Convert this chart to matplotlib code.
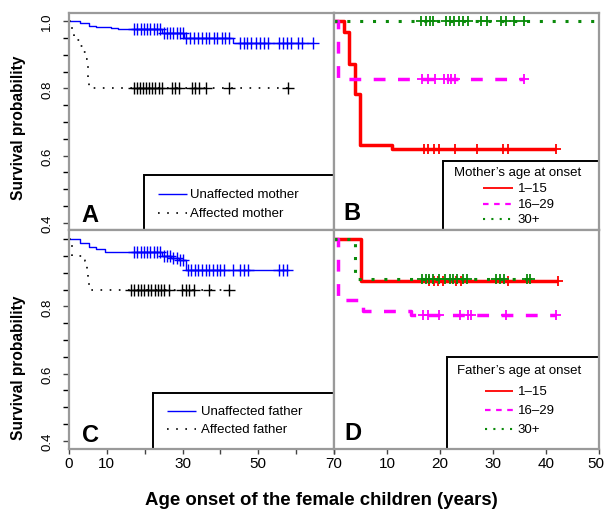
import numpy as np
import matplotlib
matplotlib.use("Agg")
import matplotlib.pyplot as plt
import matplotlib.transforms as mtransforms
from matplotlib.patches import Rectangle

plt.rcParams["font.family"] = ["Liberation Sans", "DejaVu Sans"]

# ---- data (years, survival) ----
# panel A: mother affected / unaffected
a_unaff_t = [0, 2.9, 5.3, 7.0, 9.0, 11.0, 13.0, 15.0, 24.6, 30.3, 43.2]
a_unaff_s = [1.0, 0.994, 0.986, 0.983, 0.981, 0.979, 0.977, 0.976, 0.964, 0.949, 0.934]
a_unaff_c = [17.1, 18.0, 18.9, 19.7, 20.6, 21.5, 22.4, 23.3, 24.1,
             25.0, 25.9, 26.8, 27.6, 28.5, 29.4, 30.2,
             30.8, 31.9, 32.9, 34.0, 35.0, 36.1, 37.1, 38.2, 39.2, 40.3, 41.3, 42.3,
             45.2, 46.2, 47.1, 48.2, 49.3, 50.5, 51.5, 52.6,
             55.5, 56.4, 57.6, 58.6, 60.4, 61.5, 64.4]
a_aff_t = [0, 0.7, 1.4, 2.0, 2.9, 3.8, 4.4, 4.9, 5.1, 5.3]
a_aff_s = [1.0, 0.97, 0.955, 0.945, 0.927, 0.907, 0.887, 0.863, 0.835, 0.80]
a_aff_c = [17.1, 17.9, 18.7, 19.5, 20.3, 21.1, 21.9, 22.8, 23.7, 24.6,
           27.2, 28.1, 29.0, 32.5, 33.4, 34.3, 36.3, 42.3, 57.9]

# panel B: mother's age at onset
b_g1_t = [0, 1.9, 2.8, 3.95, 4.95, 11.0]
b_g1_s = [1.0, 0.969, 0.871, 0.784, 0.633, 0.621]
b_g1_c = [16.9, 17.8, 18.8, 19.8, 22.9, 26.9, 31.8, 32.8, 41.9]
b_g2_t = [0, 0.75]
b_g2_s = [1.0, 0.828]
b_g2_c = [16.6, 17.7, 19.0, 20.8, 21.5, 22.1, 22.9, 35.8]
b_g3_t = [0]
b_g3_s = [1.0]
b_g3_c = [16.4, 17.4, 18.1, 18.6, 21.1, 21.9, 22.7, 23.5, 24.4, 25.2,
          27.7, 28.8, 31.5, 32.4, 34.0, 35.9, 52.0]

# panel C: father affected / unaffected
c_unaff_t = [0, 2.9, 5.3, 7.2, 9.4, 24.6, 27.0, 29.0, 30.8]
c_unaff_s = [1.0, 0.989, 0.977, 0.970, 0.962, 0.949, 0.943, 0.937, 0.909]
c_unaff_c = [17.1, 18.0, 18.9, 19.7, 20.6, 21.5, 22.4, 23.3, 24.1,
             25.0, 25.9, 26.8, 27.6, 28.5, 29.4, 30.2,
             31.4, 32.3, 33.3, 34.2, 35.2, 36.1, 37.1, 38.0, 39.0, 39.9, 40.9,
             43.2, 45.1, 46.2, 47.2, 55.5, 56.5, 57.6]
c_aff_t = [0, 0.9, 4.1, 4.4, 4.8, 5.1, 5.4]
c_aff_s = [1.0, 0.949, 0.935, 0.92, 0.90, 0.875, 0.848]
c_aff_c = [16.4, 17.3, 18.2, 19.0, 19.9, 20.8, 21.7, 22.6, 23.4, 24.3, 25.2, 26.4,
           29.9, 30.9, 31.8, 32.9, 37.1, 42.3]

# panel D: father's age at onset
d_g1_t = [0, 5.1]
d_g1_s = [1.0, 0.875]
d_g1_c = [18.0, 18.8, 19.6, 20.5, 23.0, 24.0, 32.8, 42.2]
d_g2_t = [0, 0.75, 5.5, 14.5]
d_g2_s = [1.0, 0.818, 0.786, 0.773]
d_g2_c = [16.8, 17.7, 19.9, 23.7, 25.2, 25.9, 32.5, 41.9]
d_g3_t = [0, 4.0]
d_g3_s = [1.0, 0.882]
d_g3_c = [16.6, 17.4, 18.0, 18.6, 19.9, 21.0, 21.8, 22.5, 23.3, 24.3, 25.0,
          30.6, 31.3, 32.0, 36.5, 37.0]

left_xticks = [0, 10, 20, 30, 40, 50, 60, 70]
left_xlabels = ["0", "10", "", "30", "", "50", "", "70"]
right_xticks = [0, 10, 20, 30, 40, 50]
right_xlabels = ["", "10", "20", "30", "40", "50"]
yticks_minor = [0.4, 0.45, 0.5, 0.55, 0.6, 0.65, 0.7, 0.75, 0.8, 0.85, 0.9, 0.95, 1.0]
a_yticks = [0.4, 0.6, 0.8, 1.0]
c_yticks = [0.4, 0.6, 0.8]

BLUE = "#0000ff"
RED = "#ff0000"
MAG = "#ff00ff"
GRN = "#0a8a0a"
SPINE = "#9a9a9a"


def km(ax, t, s, cens, color, lw, ls, ms, mew):
    t = np.asarray(t, float)
    s = np.asarray(s, float)
    cens = np.asarray(cens, float)
    end = cens.max() if len(cens) else t[-1]
    xs = np.append(t, end)
    ys = np.append(s, s[-1])
    ax.step(xs, ys, where="post", color=color, lw=lw, ls=ls,
            solid_capstyle="butt", dash_capstyle="butt")
    idx = np.searchsorted(t, cens, side="right") - 1
    ax.plot(cens, s[idx], ls="none", marker="+", ms=ms, mew=mew, color=color)


fig = plt.figure(figsize=(6.05, 5.10), dpi=100)
W, H = 605.0, 510.0


def make_ax(x0, y0, x1, y1):
    return fig.add_axes([x0 / W, 1 - y1 / H, (x1 - x0) / W, (y1 - y0) / H])


axA = make_ax(69, 14, 334, 231)
axB = make_ax(334, 14, 599, 231)
axC = make_ax(69, 231, 334, 450)
axD = make_ax(334, 231, 599, 450)

for ax in (axA, axB, axC, axD):
    for sp in ax.spines.values():
        sp.set_color(SPINE)
        sp.set_linewidth(1.6)
    ax.tick_params(colors="#444444", labelcolor="black")

axA.set_ylim(0.379, 1.024)
axB.set_ylim(0.379, 1.024)
axC.set_ylim(0.376, 1.027)
axD.set_ylim(0.376, 1.027)
axA.set_xlim(0, 70)
axC.set_xlim(0, 70)
axB.set_xlim(0, 50)
axD.set_xlim(0, 50)

dot_thin = (0, (1, 4.5))
dot_thick = (0, (1, 3.2))
dash_thick = (0, (3.4, 3.6))

km(axA, a_unaff_t, a_unaff_s, a_unaff_c, BLUE, 1.0, "-", 8, 1.0)
km(axA, a_aff_t, a_aff_s, a_aff_c, "black", 1.2, dot_thin, 8, 1.0)

km(axB, b_g1_t, b_g1_s, b_g1_c, RED, 2.5, "-", 7.5, 1.3)
km(axB, b_g2_t, b_g2_s, b_g2_c, MAG, 2.5, dash_thick, 7.5, 1.3)
km(axB, b_g3_t, b_g3_s, b_g3_c, GRN, 2.2, dot_thick, 7.5, 1.3)

km(axC, c_unaff_t, c_unaff_s, c_unaff_c, BLUE, 1.0, "-", 8, 1.0)
km(axC, c_aff_t, c_aff_s, c_aff_c, "black", 1.2, dot_thin, 8, 1.0)

km(axD, d_g1_t, d_g1_s, d_g1_c, RED, 2.5, "-", 7.5, 1.3)
km(axD, d_g2_t, d_g2_s, d_g2_c, MAG, 2.5, dash_thick, 7.5, 1.3)
km(axD, d_g3_t, d_g3_s, d_g3_c, GRN, 2.2, dot_thick, 7.5, 1.3)

# axes ticks
for ax, labs in ((axA, a_yticks), (axC, c_yticks)):
    ax.set_yticks(yticks_minor, minor=True)
    ax.set_yticks(labs)
    ax.set_yticklabels(["%.1f" % v for v in labs])
    ax.tick_params(axis="y", which="both", direction="out", length=4.3,
                   width=1.0, pad=7, labelrotation=90, labelsize=9.5)
    for lab in ax.get_yticklabels():
        lab.set_va("center")
for ax in (axB, axD):
    ax.set_yticks([])
for ax in (axA, axB):
    ax.set_xticks([])

axC.set_xticks(left_xticks)
axC.set_xticklabels(left_xlabels)
axD.set_xticks(right_xticks)
axD.set_xticklabels(right_xlabels)
for ax in (axC, axD):
    ax.tick_params(axis="x", direction="out", length=3.6, width=1.0, pad=1.5,
                   labelsize=11)
# last label sits against the right edge; nudge it in a little
shift = mtransforms.ScaledTranslation(-3 / 100, 0, fig.dpi_scale_trans)
last = axD.get_xticklabels()[-1]
last.set_transform(last.get_transform() + shift)


def legend_box(ax, x0, y0, title, entries, tx, lx0, lx1, ys, ty=None):
    ax.add_patch(Rectangle((x0, -0.2), 1.5, y0 + 0.2, transform=ax.transAxes,
                           fill=False, ec="black", lw=1.4, zorder=1))
    if title:
        ax.text(x0 + 0.04, ty, title, transform=ax.transAxes, fontsize=9.5,
                ha="left", va="center")
    for (label, color, lw, ls), y in zip(entries, ys):
        ax.plot([lx0, lx1], [y, y], transform=ax.transAxes, color=color,
                lw=lw, ls=ls, solid_capstyle="butt", dash_capstyle="butt")
        ax.text(tx, y, label, transform=ax.transAxes, fontsize=9.5,
                ha="left", va="center")


legend_box(axA, 0.283, 0.253, None,
           [("Unaffected mother", BLUE, 1.0, "-"),
            ("Affected mother", "black", 1.2, dot_thin)],
           0.457, 0.336, 0.445, [0.166, 0.078])
legend_box(axB, 0.411, 0.318, "Mother\u2019s age at onset",
           [("1\u201315", RED, 1.3, "-"),
            ("16\u201329", MAG, 1.6, (0, (2.5, 2.5))),
            ("30+", GRN, 1.5, (0, (1, 3)))],
           0.694, 0.562, 0.675, [0.194, 0.120, 0.051], ty=0.267)
legend_box(axC, 0.317, 0.256, None,
           [("Unaffected father", BLUE, 1.0, "-"),
            ("Affected father", "black", 1.2, dot_thin)],
           0.498, 0.370, 0.479, [0.174, 0.091])
legend_box(axD, 0.426, 0.42, "Father\u2019s age at onset",
           [("1\u201315", RED, 1.3, "-"),
            ("16\u201329", MAG, 1.6, (0, (2.5, 2.5))),
            ("30+", GRN, 1.5, (0, (1, 3)))],
           0.694, 0.570, 0.675, [0.265, 0.178, 0.091], ty=0.361)

for ax, letter, x, y in ((axA, "A", 0.045, 0.043), (axB, "B", 0.034, 0.051),
                         (axC, "C", 0.049, 0.038), (axD, "D", 0.038, 0.046)):
    ax.text(x, y, letter, transform=ax.transAxes, fontsize=17,
            fontweight="bold", ha="left", va="baseline")

fig.text(19 / W, 1 - 128 / H, "Survival probability", rotation=90,
         fontsize=11.2, fontweight="bold", ha="center", va="center")
fig.text(19 / W, 1 - 368 / H, "Survival probability", rotation=90,
         fontsize=11.2, fontweight="bold", ha="center", va="center")
fig.text(321.5 / W, 1 - 505 / H, "Age onset of the female children (years)",
         fontsize=13.4, fontweight="bold", ha="center", va="baseline")

fig.savefig("out.png", dpi=100)
